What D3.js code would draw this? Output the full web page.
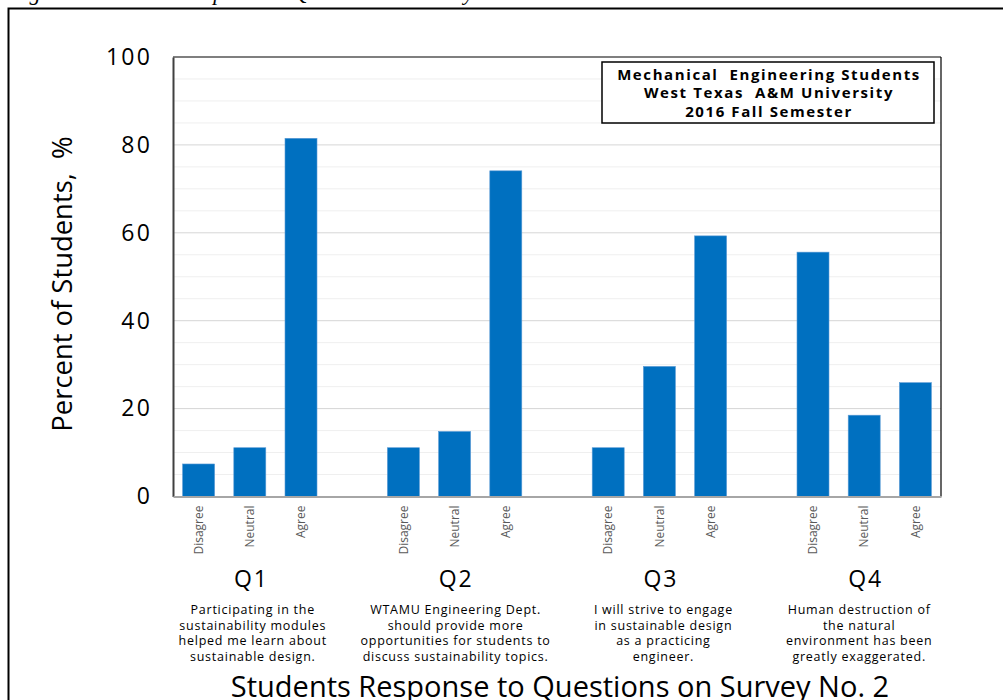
<!DOCTYPE html>
<html><head><meta charset="utf-8">
<script src="https://cdn.jsdelivr.net/npm/d3@7"></script>
<style>
html,body{margin:0;padding:0;background:#fff;}
svg{display:block;}
.os{font-family:"Open Sans", sans-serif;}
</style></head>
<body>
<svg id="chart" width="1003" height="700"></svg>
<script>
// ---- data ----
const questions = ["Q1", "Q2", "Q3", "Q4"];
const responses = ["Disagree", "Neutral", "Agree"];
const disagreeValues = [7.4, 11.1, 11.1, 55.6];
const neutralValues = [11.1, 14.8, 29.6, 18.5];
const agreeValues = [81.5, 74.1, 59.3, 25.9];
const yTicks = [0, 20, 40, 60, 80, 100];
const questionTexts = [
  ["Participating in the", "sustainability modules", "helped me learn about", "sustainable design."],
  ["WTAMU Engineering Dept.", "should provide more", "opportunities for students to", "discuss sustainability topics."],
  ["I will  strive to engage", "in sustainable design", "as a practicing", "engineer."],
  ["Human destruction of", "the natural", "environment has been", "greatly exaggerated."]
];
const boxLines = ["Mechanical  Engineering Students", "West Texas  A&M University", "2016 Fall Semester"];
const xTitle = "Students Response to Questions on Survey No. 2";
const yTitle = "Percent of Students,  %";
const caption = "Figure 6. Students\u2019 Response to Questions on Survey No. 2";

const seriesByResponse = { Disagree: disagreeValues, Neutral: neutralValues, Agree: agreeValues };

// ---- layout ----
const svg = d3.select("#chart");
const plot = { left: 173, right: 941, top: 57, bottom: 496.5 };

const slots = [];
questions.forEach((q, i) => {
  responses.forEach(r => slots.push(q + "|" + r));
  if (i < questions.length - 1) slots.push(q + "|gap");
});
const bars = [];
questions.forEach((q, i) => responses.forEach(r => bars.push({ q, r, key: q + "|" + r, v: seriesByResponse[r][i] })));

const x = d3.scaleBand().domain(slots).range([plot.left, plot.right]).paddingInner(0.375).paddingOuter(0.1875);
const y = d3.scaleLinear().domain([0, 100]).range([plot.bottom, plot.top]);

// caption (cut off at top in the reference)
svg.append("text").attr("x", 10).attr("y", 0)
  .style("font-family", "'Liberation Serif', serif").style("font-style", "italic")
  .style("font-size", "22px").attr("fill", "#000").text(caption);

// outer frame
svg.append("rect").attr("x", 8.5).attr("y", 8.5).attr("width", 1100).attr("height", 800)
  .attr("fill", "none").attr("stroke", "#000").attr("stroke-width", 2);

// gridlines
const minor = d3.range(5, 100, 5).filter(v => v % 20 !== 0);
svg.append("g").selectAll("line").data(minor).join("line")
  .attr("x1", plot.left).attr("x2", plot.right)
  .attr("y1", d => y(d)).attr("y2", d => y(d))
  .attr("stroke", "#efefef").attr("stroke-width", 1);
svg.append("g").selectAll("line").data(yTicks.filter(v => v > 0 && v < 100)).join("line")
  .attr("x1", plot.left).attr("x2", plot.right)
  .attr("y1", d => y(d)).attr("y2", d => y(d))
  .attr("stroke", "#d6d6d6").attr("stroke-width", 1);

// bars
svg.append("g").selectAll("rect").data(bars).join("rect")
  .attr("x", d => x(d.key)).attr("width", x.bandwidth())
  .attr("y", d => y(d.v)).attr("height", d => y(0) - y(d.v))
  .attr("fill", "#0070c0").attr("stroke", "#5b9bd5").attr("stroke-width", 0.6);

// plot frame
svg.append("line").attr("x1", plot.left).attr("x2", plot.right).attr("y1", plot.top).attr("y2", plot.top)
  .attr("stroke", "#000").attr("stroke-width", 1.2);
svg.append("line").attr("x1", plot.right).attr("x2", plot.right).attr("y1", plot.top).attr("y2", plot.bottom)
  .attr("stroke", "#000").attr("stroke-width", 1.2);

// y axis
const yAxis = svg.append("g").attr("transform", `translate(${plot.left},0)`)
  .call(d3.axisLeft(y).tickValues(yTicks).tickSize(0).tickPadding(21));
yAxis.attr("font-family", null).attr("font-size", null);
yAxis.select(".domain").attr("stroke", "#404040").attr("stroke-width", 2);
yAxis.selectAll("text").attr("class", "os").style("font-size", "23px")
  .style("letter-spacing", "2.2px").attr("fill", "#000");

// x axis
const xAxis = svg.append("g").attr("transform", `translate(0,${plot.bottom})`)
  .call(d3.axisBottom(x).tickValues(bars.map(d => d.key)).tickFormat(k => k.split("|")[1]).tickSize(0));
xAxis.attr("font-family", null).attr("font-size", null);
xAxis.select(".domain").attr("stroke", "#a6a6a6").attr("stroke-width", 2);
xAxis.selectAll("text").attr("class", "os").style("font-size", "12px").attr("fill", "#595959")
  .attr("transform", "rotate(-90)").attr("text-anchor", "end")
  .attr("x", -9).attr("y", 0).attr("dy", "0.35em");

// group labels and descriptions
const groupCenter = q => (x(q + "|Disagree") + x(q + "|Agree") + x.bandwidth()) / 2;
const descOffset = [3, 1, 4, -5];
questions.forEach((q, i) => {
  const cx = groupCenter(q);
  svg.append("text").attr("x", cx + 1.5).attr("y", 587).attr("text-anchor", "middle")
    .attr("class", "os").style("font-size", "23px").style("letter-spacing", "1.8px")
    .attr("fill", "#000").text(q);
  const t = svg.append("text").attr("text-anchor", "middle")
    .attr("class", "os").style("font-size", "12.5px").style("letter-spacing", "0.75px").attr("fill", "#000");
  questionTexts[i].forEach((line, j) => {
    t.append("tspan").attr("x", cx + descOffset[i]).attr("y", 614 + j * 15.6).text(line);
  });
});

// info box
svg.append("rect").attr("x", 602).attr("y", 62).attr("width", 332).attr("height", 61)
  .attr("fill", "#fff").attr("stroke", "#000").attr("stroke-width", 1.5);
const bt = svg.append("text").attr("text-anchor", "middle")
  .attr("class", "os").style("font-weight", "bold").style("letter-spacing", "1.6px")
  .style("font-size", "15px").attr("fill", "#000").style("white-space", "pre");
boxLines.forEach((line, j) => bt.append("tspan").attr("x", 769).attr("y", 79.5 + j * 18.5).text(line));

// axis titles
svg.append("text").attr("transform", `translate(72,284) rotate(-90)`).attr("text-anchor", "middle")
  .attr("class", "os").style("font-size", "27.4px").attr("fill", "#000")
  .style("white-space", "pre").text(yTitle);
svg.append("text").attr("x", 560).attr("y", 696.5).attr("text-anchor", "middle")
  .attr("class", "os").style("font-size", "29px").attr("fill", "#000").text(xTitle);
</script>
</body></html>
